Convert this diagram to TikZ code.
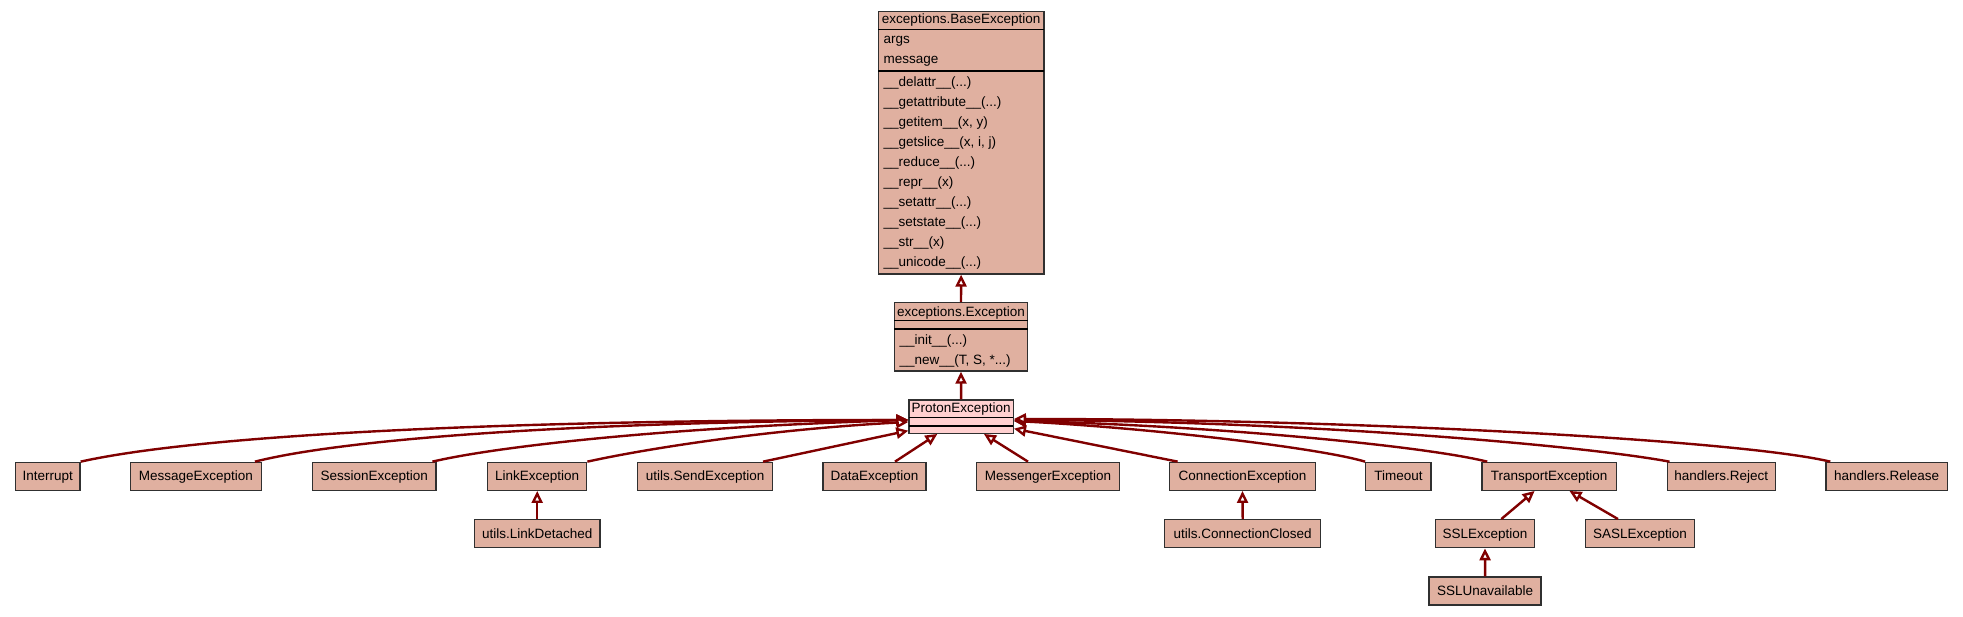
\documentclass[tikz,border=0pt]{standalone}
\usepackage{fontspec}
\setmainfont{Liberation Sans}
\usetikzlibrary{arrows.meta,calc}
\definecolor{cfill}{HTML}{E0B0A0}
\definecolor{pfill}{HTML}{FFD0D0}
\definecolor{edgec}{HTML}{800000}
\definecolor{bord}{HTML}{303030}
\newcommand{\cfont}{\fontsize{13.5pt}{16pt}\selectfont}
\begin{document}
\begin{tikzpicture}[x=1pt,y=-1pt,
  sbox/.style={draw=bord, line width=1.3pt, fill=cfill, minimum height=28pt, inner sep=0pt, font=\cfont, text height=10pt, text depth=1pt},
  cbox/.style={draw=bord, line width=1.3pt, fill=cfill, inner sep=0pt},
  sepl/.style={draw=black, line width=1.3pt},
  txt/.style={font=\cfont, inner sep=0pt, anchor=base west},
  ttl/.style={font=\cfont, inner sep=0pt, anchor=base},
  inh/.style={draw=edgec, line width=2.4pt, -{Triangle[length=12pt,width=11pt,fill=white]}},
]
\useasboundingbox (0,0) rectangle (1963,616);

% ---- class boxes ----
\node[cbox, minimum width=165.7pt, minimum height=262.3pt] (base) at (961.15,142.85) {};
\draw[sepl] (878.3,29.3) -- (1044,29.3);
\draw[sepl] (878.3,71) -- (1044,71);
\node[ttl] (baset) at (961.15,23.6) {exceptions.BaseException};
\node[txt] (ba1) at (883.3,43.3) {args};
\node[txt] (ba2) at (883.3,63.3) {message};
\node[txt] (bm1) at (883.3,86) {\_\_delattr\_\_(...)};
\node[txt] (bm2) at (883.3,106) {\_\_getattribute\_\_(...)};
\node[txt] (bm3) at (883.3,126) {\_\_getitem\_\_(x, y)};
\node[txt] (bm4) at (883.3,146) {\_\_getslice\_\_(x, i, j)};
\node[txt] (bm5) at (883.3,166) {\_\_reduce\_\_(...)};
\node[txt] (bm6) at (883.3,186) {\_\_repr\_\_(x)};
\node[txt] (bm7) at (883.3,206) {\_\_setattr\_\_(...)};
\node[txt] (bm8) at (883.3,226) {\_\_setstate\_\_(...)};
\node[txt] (bm9) at (883.3,246) {\_\_str\_\_(x)};
\node[txt] (bm10) at (883.3,266) {\_\_unicode\_\_(...)};

\node[cbox, minimum width=133.4pt, minimum height=68.3pt] (exc) at (961,336.85) {};
\draw[sepl] (894.3,320.7) -- (1027.7,320.7);
\draw[sepl] (894.3,329) -- (1027.7,329);
\node[ttl] (exct) at (961,316) {exceptions.Exception};
\node[txt] (em1) at (899.3,344) {\_\_init\_\_(...)};
\node[txt] (em2) at (899.3,364) {\_\_new\_\_(T, S, *...)};

\node[cbox, fill=pfill, minimum width=104.3pt, minimum height=33.3pt] (proton) at (961.15,416.65) {};
\draw[sepl] (909,417.7) -- (1013.3,417.7);
\draw[sepl] (909,426) -- (1013.3,426);
\node[ttl] (protont) at (961.15,412.9) {ProtonException};

% ---- simple boxes ----
\node[sbox, minimum width=64.3pt]  (interrupt) at (47.85,476.3) {Interrupt};
\node[sbox, minimum width=131pt]   (message) at (195.8,476.3) {MessageException};
\node[sbox, minimum width=123.7pt] (session) at (374.2,476.3) {SessionException};
\node[sbox, minimum width=99pt]    (link) at (537.2,476.3) {LinkException};
\node[sbox, minimum width=135pt]   (send) at (705.2,476.3) {utils.SendException};
\node[sbox, minimum width=103pt]   (data) at (874.5,476.3) {DataException};
\node[sbox, minimum width=142.6pt] (messenger) at (1048,476.3) {MessengerException};
\node[sbox, minimum width=145.6pt] (conn) at (1242.5,476.3) {ConnectionException};
\node[sbox, minimum width=65.3pt]  (timeout) at (1398.4,476.3) {Timeout};
\node[sbox, minimum width=134.6pt] (transport) at (1549.2,476.3) {TransportException};
\node[sbox, minimum width=108.1pt] (reject) at (1721.2,476.3) {handlers.Reject};
\node[sbox, minimum width=121.3pt] (release) at (1886.6,476.3) {handlers.Release};

\node[sbox, minimum width=125.7pt] (linkdet) at (537.2,533.7) {utils.LinkDetached};
\node[sbox, minimum width=156pt]   (connclosed) at (1242.7,533.7) {utils.ConnectionClosed};
\node[sbox, minimum width=99.1pt]  (ssl) at (1485,533.7) {SSLException};
\node[sbox, minimum width=108.5pt] (sasl) at (1639.9,533.7) {SASLException};
\node[sbox, minimum width=112pt]   (sslun) at (1485.1,591) {SSLUnavailable};

% ---- connectors ----
\draw[inh] (exc.north) -- (base.south);
\draw[inh] (proton.north) -- (exc.south);

\draw[inh] (interrupt.north east) .. controls (200,435) and (500,420) .. ($(proton.west)+(0,3.3)$);
\draw[inh] ($(message.north east)+(-7,0)$) .. controls (340,440) and (560,422) .. ($(proton.west)+(0,3.3)$);
\draw[inh] ($(session.north east)+(-4.3,0)$) .. controls (490,448) and (650,428) .. ($(proton.west)+(0,3.3)$);
\draw[inh] (link.north east) .. controls (640,450) and (760,430) .. ($(proton.west)+(0,5.3)$);
\draw[inh] ($(send.north)+(57.8,0)$) -- ($(proton.south west)+(0,-3.3)$);
\draw[inh] ($(data.north)+(20.5,0)$) -- ($(proton.south west)+(29,0)$);
\draw[inh] ($(messenger.north)+(-20,0)$) -- ($(proton.south east)+(-30,0)$);
\draw[inh] ($(conn.north west)+(8.6,0)$) -- ($(proton.south east)+(0,-5.3)$);
\draw[inh] (timeout.north west) .. controls (1320,448) and (1150,428) .. ($(proton.east)+(0,4.3)$);
\draw[inh] ($(transport.north west)+(6,0)$) .. controls (1420,445) and (1200,425) .. ($(proton.east)+(0,4.3)$);
\draw[inh] ($(reject.north west)+(3,0)$) .. controls (1580,445) and (1300,421) .. ($(proton.east)+(0,3.3)$);
\draw[inh] ($(release.north west)+(5,0)$) .. controls (1740,440) and (1350,419) .. ($(proton.east)+(0,2.3)$);

\draw[inh] (linkdet.north) -- (link.south);
\draw[inh] (connclosed.north) -- (conn.south);
\draw[inh] (sslun.north) -- (ssl.south);
\draw[inh] ($(ssl.north)+(16.3,0)$) -- ($(transport.south)+(-14.6,0)$);
\draw[inh] ($(sasl.north)+(-21.9,0)$) -- ($(transport.south)+(20.3,0)$);
\end{tikzpicture}
\end{document}
